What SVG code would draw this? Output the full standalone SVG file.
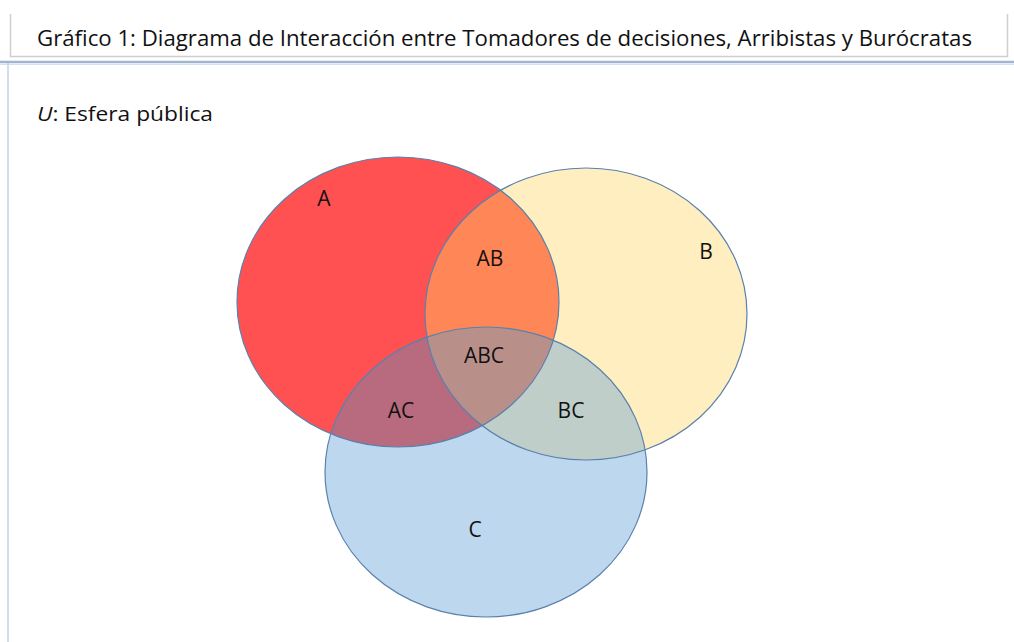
<svg xmlns="http://www.w3.org/2000/svg" width="1014" height="642" viewBox="0 0 1014 642">
<style>
text{font-family:"Open Sans","Liberation Sans",sans-serif;fill:#111111}
.lbl{font-size:21px;text-anchor:middle}
.edge{fill:none;stroke:#5a80ad;stroke-width:1.2}
</style>
<defs>
<clipPath id="cA"><ellipse cx="398" cy="302" rx="161" ry="145"/></clipPath>
<clipPath id="cB"><ellipse cx="586" cy="314" rx="161" ry="146"/></clipPath>
<clipPath id="cC"><ellipse cx="486" cy="472" rx="161" ry="145"/></clipPath>
</defs>
<rect width="1014" height="642" fill="#ffffff"/>
<g id="header">
<path d="M10.5 14 V56.5 H1007.5 V14" fill="none" stroke="#cfcfcf" stroke-width="1.5"/>
<text x="37" y="46" font-size="21.5" textLength="935" lengthAdjust="spacingAndGlyphs">Gráfico 1: Diagrama de Interacción entre Tomadores de decisiones, Arribistas y Burócratas</text>
<line x1="0" y1="62" x2="1014" y2="62" stroke="#9fb5d2" stroke-width="2.5"/>
<line x1="0" y1="64.5" x2="1014" y2="64.5" stroke="#d6e1ee" stroke-width="1"/>
<line x1="8" y1="63" x2="8" y2="642" stroke="#c5d3e6" stroke-width="1.5"/>
</g>
<text id="universe" x="37" y="121" font-size="20.5" textLength="176" lengthAdjust="spacingAndGlyphs"><tspan font-style="italic">U</tspan>: Esfera pública</text>
<g id="A"><ellipse cx="398" cy="302" rx="161" ry="145" fill="#ff5151"/></g>
<g id="B"><ellipse cx="586" cy="314" rx="161" ry="146" fill="#ffeec0"/></g>
<g id="C"><ellipse cx="486" cy="472" rx="161" ry="145" fill="#bdd7ee"/></g>
<g id="AB"><g clip-path="url(#cA)"><ellipse cx="586" cy="314" rx="161" ry="146" fill="#ff8656"/></g></g>
<g id="AC"><g clip-path="url(#cA)"><ellipse cx="486" cy="472" rx="161" ry="145" fill="#b86a7e"/></g></g>
<g id="BC"><g clip-path="url(#cB)"><ellipse cx="486" cy="472" rx="161" ry="145" fill="#bfcec9"/></g></g>
<g id="ABC"><g clip-path="url(#cA)"><g clip-path="url(#cB)"><ellipse cx="486" cy="472" rx="161" ry="145" fill="#b98f8a"/></g></g></g>
<g id="outlines">
<ellipse class="edge" cx="398" cy="302" rx="161" ry="145"/>
<ellipse class="edge" cx="586" cy="314" rx="161" ry="146"/>
<ellipse class="edge" cx="486" cy="472" rx="161" ry="145"/>
</g>
<g id="labels">
<text class="lbl" x="324" y="206">A</text>
<text class="lbl" x="490" y="266">AB</text>
<text class="lbl" x="706" y="259">B</text>
<text class="lbl" x="484" y="363">ABC</text>
<text class="lbl" x="401" y="418">AC</text>
<text class="lbl" x="571" y="418">BC</text>
<text class="lbl" x="475" y="537">C</text>
</g>
</svg>
